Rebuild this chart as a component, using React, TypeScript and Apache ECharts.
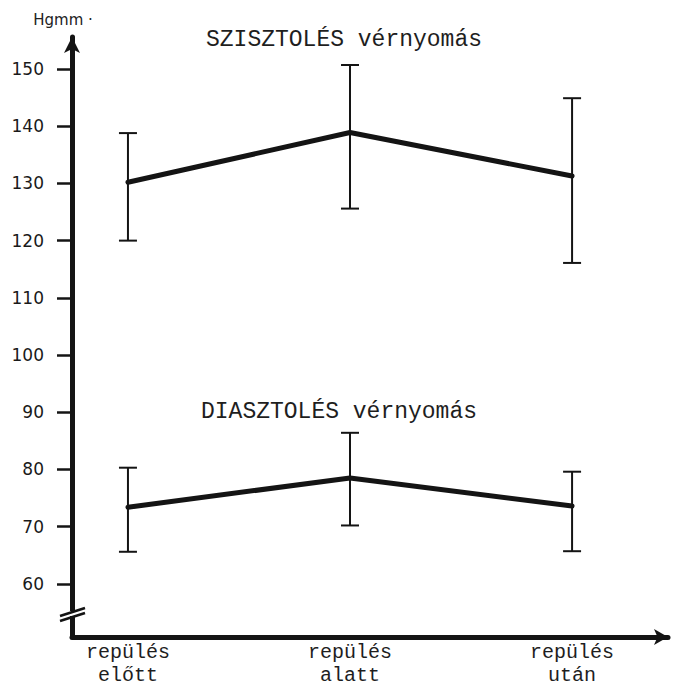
import React, { useEffect, useRef } from "react";
import * as echarts from "echarts";

const categories = ["repülés\nelőtt", "repülés\nalatt", "repülés\nután"];
const yTicks = [60, 70, 80, 90, 100, 110, 120, 130, 140, 150];

const systolicMean = [130.2, 138.9, 131.3];
const systolicHigh = [138.8, 150.7, 144.9];
const systolicLow = [120.0, 125.6, 116.1];

const diastolicMean = [73.4, 78.5, 73.6];
const diastolicHigh = [80.3, 86.4, 79.6];
const diastolicLow = [65.6, 70.2, 65.7];

const systolicTitle = "SZISZTOLÉS vérnyomás";
const diastolicTitle = "DIASZTOLÉS vérnyomás";
const yUnit = "Hgmm ·";

const MONO = "'Liberation Mono', 'DejaVu Sans Mono', monospace";
const HAND = "'DejaVu Sans', 'Noto Sans', sans-serif";
const INK = "#141414";

function errorSeries(low: number[], high: number[]) {
  const data = low.map((l, i) => [i, l, high[i]]);
  return {
    type: "custom",
    data,
    silent: true,
    z: 3,
    renderItem: (params: any, api: any) => {
      const x = api.value(0);
      const lo = api.coord([x, api.value(1)]);
      const hi = api.coord([x, api.value(2)]);
      const cap = 9;
      const style = { stroke: INK, lineWidth: 2 };
      return {
        type: "group",
        children: [
          { type: "line", shape: { x1: lo[0], y1: lo[1], x2: hi[0], y2: hi[1] }, style },
          { type: "line", shape: { x1: hi[0] - cap, y1: hi[1], x2: hi[0] + cap, y2: hi[1] }, style },
          { type: "line", shape: { x1: lo[0] - cap, y1: lo[1], x2: lo[0] + cap, y2: lo[1] }, style },
        ],
      };
    },
  };
}

function lineSeries(values: number[]) {
  return {
    type: "line",
    data: values.map((v, i) => [i, v]),
    showSymbol: false,
    symbol: "none",
    z: 4,
    lineStyle: { color: INK, width: 5, join: "round", cap: "round" },
  };
}

export default function App() {
  const ref = useRef<HTMLDivElement>(null);
  useEffect(() => {
    if (!ref.current) return;
    const chart = echarts.init(ref.current, undefined, { renderer: "svg" });
    chart.setOption({
      animation: false,
      backgroundColor: "#ffffff",
      grid: { left: 72, right: 7, top: 37, bottom: 50 },
      xAxis: {
        type: "value",
        min: -0.252,
        max: 2.432,
        splitLine: { show: false },
        axisLine: {
          show: true,
          onZero: false,
          lineStyle: { color: INK, width: 5 },
          symbol: ["none", "arrow"],
          symbolSize: [12, 14],
        },
        axisTick: { show: false },
        axisLabel: {
          customValues: [0, 1, 2],
          formatter: (v: number) => categories[Math.round(v)] ?? "",
          fontFamily: MONO,
          fontSize: 20,
          lineHeight: 23,
          color: "#1e1e1e",
          margin: 4,
        },
      },
      yAxis: {
        type: "value",
        min: 50.7,
        max: 155.6,
        name: yUnit,
        nameLocation: "end",
        nameGap: 10,
        nameTextStyle: { fontFamily: HAND, fontSize: 15, color: "#222", padding: [0, 18, 0, 0] },
        splitLine: { show: false },
        axisLine: {
          show: true,
          onZero: false,
          lineStyle: { color: INK, width: 5 },
          symbol: ["none", "arrow"],
          symbolSize: [12, 16],
        },
        axisTick: {
          show: true,
          customValues: yTicks,
          length: 15,
          lineStyle: { color: INK, width: 2.5 },
        },
        axisLabel: {
          customValues: yTicks,
          fontFamily: HAND,
          fontSize: 17,
          color: "#1a1a1a",
          margin: 28,
        },
      },
      graphic: [
        {
          type: "text",
          x: 344,
          y: 40,
          style: {
            text: systolicTitle,
            font: `23px ${MONO}`,
            fill: "#1e1e1e",
            align: "center",
            verticalAlign: "middle",
          },
        },
        {
          type: "text",
          x: 339,
          y: 412,
          style: {
            text: diastolicTitle,
            font: `23px ${MONO}`,
            fill: "#1e1e1e",
            align: "center",
            verticalAlign: "middle",
          },
        },
        {
          type: "rect",
          shape: { x: 66, y: 611, width: 12, height: 5 },
          style: { fill: "#ffffff" },
          z: 9,
        },
        {
          type: "line",
          shape: { x1: 60, y1: 621, x2: 85, y2: 613 },
          style: { stroke: INK, lineWidth: 2.5 },
          z: 10,
        },
        {
          type: "line",
          shape: { x1: 60, y1: 616, x2: 85, y2: 608 },
          style: { stroke: INK, lineWidth: 2.5 },
          z: 10,
        },
      ],
      series: [
        lineSeries(systolicMean),
        lineSeries(diastolicMean),
        errorSeries(systolicLow, systolicHigh),
        errorSeries(diastolicLow, diastolicHigh),
      ],
    });
    return () => chart.dispose();
  }, []);
  return (
    <div
      ref={ref}
      style={{ position: "fixed", left: 0, top: 0, width: 675, height: 687 }}
    />
  );
}
